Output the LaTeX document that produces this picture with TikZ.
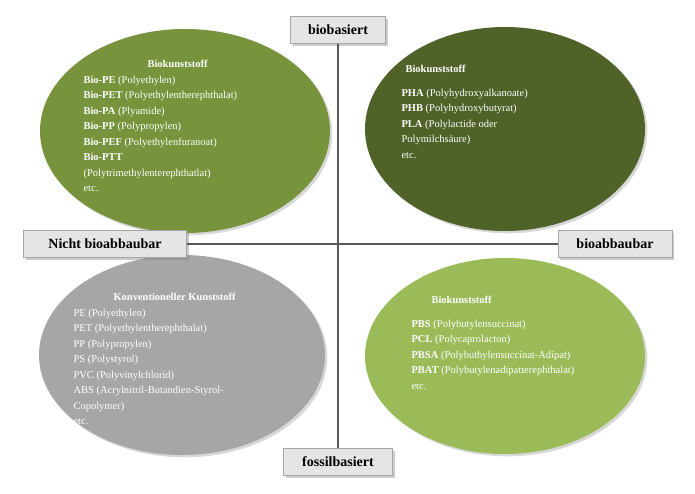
\documentclass[tikz,border=0pt]{standalone}
\usepackage{fontspec}
\setmainfont{Liberation Serif}
\usetikzlibrary{shadows}
\definecolor{gA}{HTML}{77933C}
\definecolor{gB}{HTML}{4F6228}
\definecolor{gC}{HTML}{A6A6A6}
\definecolor{gD}{HTML}{9BBB59}
\tikzset{
 lbl/.style={draw=gray!70,fill=gray!20,font=\fontsize{14}{15}\selectfont\bfseries,inner sep=4pt,minimum height=27pt,drop shadow={opacity=0.4}},
 txt/.style={text=white,align=left,font=\fontsize{10.5}{15.5}\selectfont},
 ax/.style={draw=gray!70!black,line width=1.3pt}
}
\begin{document}
\begin{tikzpicture}[x=1pt,y=-1pt]
\useasboundingbox[fill=white] (0,0) rectangle (695,494);
\fill[gA,drop shadow={opacity=0.3}] (185,131) ellipse[x radius=145,y radius=102];
\fill[gB,drop shadow={opacity=0.3}] (505,129) ellipse[x radius=140,y radius=102];
\fill[gC,drop shadow={opacity=0.3}] (182,355) ellipse[x radius=143,y radius=100];
\fill[gD,drop shadow={opacity=0.3}] (505,356) ellipse[x radius=140,y radius=98];
\node[lbl,minimum width=95pt] (top) at (338,30) {biobasiert};
\node[lbl,minimum width=109pt] (bot) at (338,462) {fossilbasiert};
\node[lbl,minimum width=163pt] (left) at (105,244) {Nicht bioabbaubar};
\node[lbl,minimum width=114pt] (right) at (615,244) {bioabbaubar};
\draw[ax] (top.south) -- (bot.north);
\draw[ax] (left.east) -- (right.west);
\node[txt,anchor=north west] (t1) at (80,57) {\hspace*{64pt}\textbf{Biokunststoff}\\
\textbf{Bio-PE} (Polyethylen)\\
\textbf{Bio-PET} (Polyethylentherephthalat)\\
\textbf{Bio-PA} (Plyamide)\\
\textbf{Bio-PP} (Polypropylen)\\
\textbf{Bio-PEF} (Polyethylenfuranoat)\\
\textbf{Bio-PTT}\\
(Polytrimethylenterephthatlat)\\
etc.};
\node[txt,anchor=north west] (t2) at (398,62) {\hspace*{4pt}\textbf{Biokunststoff}\\[8pt]
\textbf{PHA} (Polyhydroxyalkanoate)\\
\textbf{PHB} (Polyhydroxybutyrat)\\
\textbf{PLA} (Polylactide oder\\
Polymilchsäure)\\
etc.};
\node[txt,anchor=north west] (t3) at (70,290) {\hspace*{40pt}\textbf{Konventioneller Kunststoff}\\
PE (Polyethylen)\\
PET (Polyethylentherephthalat)\\
PP (Polypropylen)\\
PS (Polystyrol)\\
PVC (Polyvinylchlorid)\\
ABS (Acrylnitril-Butandien-Styrol-\\
Copolymer)\\
etc.};
\node[txt,anchor=north west] (t4) at (408,293) {\hspace*{20pt}\textbf{Biokunststoff}\\[8pt]
\textbf{PBS} (Polybutylensuccinat)\\
\textbf{PCL} (Polycaprolacton)\\
\textbf{PBSA} (Polybuthylensuccinat-Adipat)\\
\textbf{PBAT} (Polybutylenadipatterephthalat)\\
etc.};
\end{tikzpicture}
\end{document}
